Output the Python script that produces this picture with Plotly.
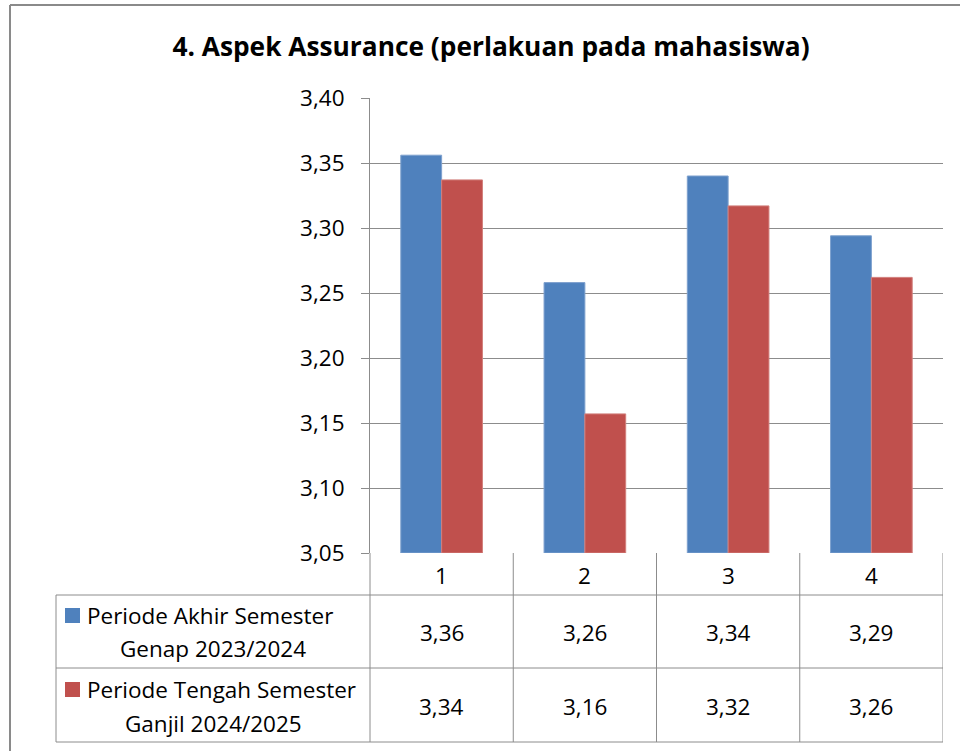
import plotly.graph_objects as go

categories = ["1", "2", "3", "4"]
series_names = ["Periode Akhir Semester Genap 2023/2024",
                "Periode Tengah Semester Ganjil 2024/2025"]
legend_line1 = ["Periode Akhir Semester", "Periode Tengah Semester"]
legend_line2 = ["Genap 2023/2024", "Ganjil 2024/2025"]
akhir_genap = [3.356, 3.258, 3.340, 3.294]
tengah_ganjil = [3.337, 3.157, 3.317, 3.262]
y_ticks = [3.05, 3.10, 3.15, 3.20, 3.25, 3.30, 3.35, 3.40]
title_text = "4. Aspek Assurance (perlakuan pada mahasiswa)"

colors = ["#4F81BD", "#C0504D"]
edge_colors = ["#7EA1CE", "#D27F7C"]
FONT = "Open Sans"
FS = 22.5
GRID = "#8C8C8C"

W, H = 960, 751
PL, PR, PT, PB = 370, 943, 98, 553


def px_x(p):
    return (p - PL) / (PR - PL)


def px_y(p):
    return (PB - p) / (PB - PT)


x_idx = list(range(len(categories)))
base = y_ticks[0]
fig = go.Figure()
for vals, name, c, ec in zip([akhir_genap, tengah_ganjil], series_names, colors, edge_colors):
    fig.add_trace(go.Bar(x=x_idx, y=[v - base for v in vals], base=base, name=name,
                         marker=dict(color=c, line=dict(color=ec, width=1)), showlegend=False,
                         hoverinfo="skip"))

fig.update_layout(
    width=W, height=H,
    margin=dict(l=PL, r=W - PR, t=PT, b=H - PB),
    paper_bgcolor="white", plot_bgcolor="white",
    barmode="group", bargap=0.43, bargroupgap=0,
    separators=",.",
    font=dict(family=FONT, color="black", size=FS),
    title=dict(text="<b>" + title_text + "</b>", x=px_x(491), xref="paper", xanchor="center",
               y=1 - 47 / H, yanchor="middle", font=dict(size=26.3, family=FONT, color="black")),
)
fig.update_yaxes(range=[y_ticks[0], y_ticks[-1]], tickvals=y_ticks, tickformat=".2f",
                 showgrid=True, gridcolor=GRID, gridwidth=1,
                 showline=True, linecolor=GRID, linewidth=1,
                 ticks="outside", ticklen=8, tickcolor=GRID, ticklabelstandoff=12,
                 tickfont=dict(size=FS, family=FONT), zeroline=False)
fig.update_xaxes(range=[-0.5, len(categories) - 0.5], showticklabels=False, showgrid=False,
                 zeroline=False, showline=False, ticks="")

line = dict(color=GRID, width=1)
shapes = []
shapes.append(dict(type="line", xref="paper", yref="paper", x0=0, x1=0, y0=px_y(553), y1=px_y(742), line=line))
for b in [i + 0.5 for i in x_idx]:
    shapes.append(dict(type="line", xref="x", yref="paper", x0=b, x1=b, y0=px_y(553), y1=px_y(742), line=line))
shapes.append(dict(type="line", xref="paper", yref="paper", x0=px_x(56), x1=px_x(56), y0=px_y(595), y1=px_y(742), line=line))
for yy in [595, 668, 742]:
    shapes.append(dict(type="line", xref="paper", yref="paper", x0=px_x(56), x1=1, y0=px_y(yy), y1=px_y(yy), line=line))
shapes.append(dict(type="line", xref="paper", yref="paper", x0=px_x(10), x1=px_x(10), y0=px_y(5), y1=px_y(760),
                   line=dict(color="#8A8A8A", width=2)))
shapes.append(dict(type="line", xref="paper", yref="paper", x0=px_x(10), x1=px_x(970), y0=px_y(5), y1=px_y(5),
                   line=dict(color="#8A8A8A", width=2)))
for (ya, yb), c in zip([(608, 623), (682, 697)], colors):
    shapes.append(dict(type="rect", xref="paper", yref="paper", x0=px_x(65), x1=px_x(80), y0=px_y(yb), y1=px_y(ya),
                       fillcolor=c, line=dict(width=0)))
fig.update_layout(shapes=shapes)

ann = []
for i, cat in zip(x_idx, categories):
    ann.append(dict(x=i, xref="x", y=px_y(575), yref="paper", text=cat, showarrow=False,
                    xanchor="center", yanchor="middle", font=dict(size=FS, family=FONT)))
for vals, yc in zip([akhir_genap, tengah_ganjil], [632, 706]):
    for i, v in zip(x_idx, vals):
        ann.append(dict(x=i, xref="x", y=px_y(yc), yref="paper", text=f"{v:.2f}".replace(".", ","),
                        showarrow=False, xanchor="center", yanchor="middle", font=dict(size=FS, family=FONT)))
for l1, l2, y1, y2 in zip(legend_line1, legend_line2, [615, 689], [648, 723]):
    ann.append(dict(x=px_x(85), xref="paper", y=px_y(y1), yref="paper", text=l1, showarrow=False,
                    xanchor="left", yanchor="middle", font=dict(size=FS, family=FONT)))
    ann.append(dict(x=px_x(213), xref="paper", y=px_y(y2), yref="paper", text=l2, showarrow=False,
                    xanchor="center", yanchor="middle", font=dict(size=FS, family=FONT)))
fig.update_layout(annotations=ann)

fig.write_html("out.html", config={"displayModeBar": False},
               post_script="document.body.style.margin='0';")
